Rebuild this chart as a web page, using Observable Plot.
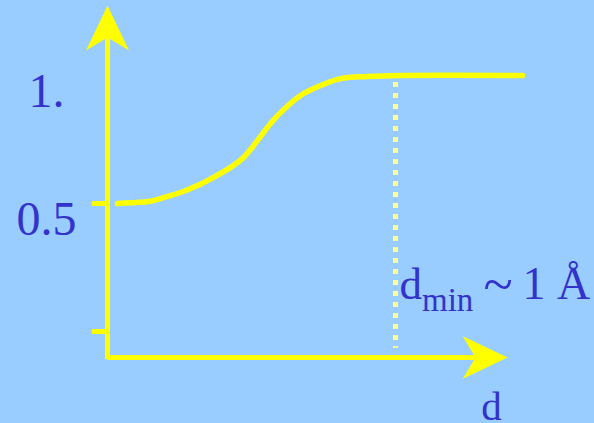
<!DOCTYPE html>
<html>
<head>
<meta charset="utf-8">
<script src="https://cdn.jsdelivr.net/npm/d3@7"></script>
<script src="https://cdn.jsdelivr.net/npm/@observablehq/plot@0.6"></script>
<style>
  html, body { margin: 0; padding: 0; background: #99CCFF; }
  #chart { width: 594px; height: 423px; overflow: hidden; }
</style>
</head>
<body>
<div id="chart"></div>
<script>
// ---- data ----
const dValues = [2.5, 5.75, 10.75, 14, 18.25, 22.5, 26.5, 30.75, 34, 37.5, 40.75, 43.25, 48.25, 53.25, 58.25, 65, 73.25, 103.75];
const fValues = [0.5, 0.503, 0.509, 0.523, 0.543, 0.570, 0.602, 0.641, 0.680, 0.746, 0.8125, 0.855, 0.922, 0.961, 0.988, 0.996, 1, 1];
const yTickValues = [0, 0.5];
const yLabelValues = [1, 0.5];
const yLabelTexts = ["1.", "0.5"];
const dMin = 72;
const dMinTop = 0.973;
const dMinBottom = -0.066;
const xAxisLevel = -0.1016;
const xArrowTip = 100;
const yArrowTip = 1.273;
const xLabel = "d";
const dMinParts = ["d", "min", "~", "1 Å"];

const curve = dValues.map((d, i) => ({d, f: fValues[i]}));

const YELLOW = "#FFFF00";
const TEXT = "#3333CC";
const SERIF = "Liberation Serif, Times New Roman, serif";

// notched arrowhead pointing up, tip at the anchor point
const arrowHead = {
  draw(ctx, size) {
    const k = Math.sqrt(size / Math.PI) / 22;
    ctx.moveTo(0, 0);
    ctx.lineTo(21.5 * k, 45 * k);
    ctx.lineTo(0, 32 * k);
    ctx.lineTo(-21.5 * k, 45 * k);
    ctx.closePath();
  }
};

const chart = Plot.plot({
  width: 594,
  height: 423,
  margin: 0,
  x: {domain: [-26.75, 121.75], axis: null},
  y: {domain: [-0.359375, 331 / 256], axis: null},
  style: {background: "#99CCFF", overflow: "visible"},
  marks: [
    // y axis line
    Plot.ruleX([0], {y1: xAxisLevel - 0.008, y2: yArrowTip - 0.12, stroke: YELLOW, strokeWidth: 5}),
    // x axis line
    Plot.ruleY([xAxisLevel], {x1: 0, x2: xArrowTip - 8, stroke: YELLOW, strokeWidth: 5}),
    // tick marks on y axis
    Plot.ruleY(yTickValues, {x1: -3.8, x2: 0, stroke: YELLOW, strokeWidth: 5}),
    // curve
    Plot.line(curve, {x: "d", y: "f", stroke: YELLOW, strokeWidth: 5.5, curve: "catmull-rom"}),
    // dotted d_min line
    Plot.ruleX([dMin], {y1: dMinTop, y2: dMinBottom, stroke: "#FFFF99", strokeWidth: 5, strokeDasharray: "5,6"}),
    // arrowheads
    Plot.dot([{x: 0, y: yArrowTip, a: 0}, {x: xArrowTip, y: xAxisLevel, a: 90}],
      {x: "x", y: "y", rotate: "a", symbol: arrowHead, r: 22, fill: YELLOW, stroke: "none"}),
    // y labels
    Plot.text(yLabelValues, {x: 0, y: v => v, text: (v, i) => yLabelTexts[i], dx: -61, dy: 31,
      lineAnchor: "bottom", textAnchor: "middle", fontSize: 48, fontFamily: SERIF, fill: TEXT}),
    // x label
    Plot.text([xLabel], {x: xArrowTip, y: xAxisLevel, text: t => t, dx: -16, dy: 62,
      lineAnchor: "bottom", textAnchor: "middle", fontSize: 41, fontFamily: SERIF, fill: TEXT}),
    // d_min annotation
    Plot.text([dMinParts[0]], {x: dMin, y: 0, text: t => t, dx: 4, dy: -33,
      lineAnchor: "bottom", textAnchor: "start", fontSize: 45, fontFamily: SERIF, fill: TEXT}),
    Plot.text([dMinParts[1]], {x: dMin, y: 0, text: t => t, dx: 26.5, dy: -21,
      lineAnchor: "bottom", textAnchor: "start", fontSize: 33, fontFamily: SERIF, fill: TEXT}),
    Plot.text([dMinParts[2]], {x: dMin, y: 0, text: t => t, dx: 102.5, dy: -29,
      lineAnchor: "bottom", textAnchor: "middle", fontSize: 54, fontFamily: SERIF, fill: TEXT}),
    Plot.text([dMinParts[3]], {x: dMin, y: 0, text: t => t, dx: 127, dy: -33,
      lineAnchor: "bottom", textAnchor: "start", fontSize: 46, fontFamily: SERIF, fill: TEXT})
  ]
});
document.getElementById("chart").appendChild(chart);
</script>
</body>
</html>
